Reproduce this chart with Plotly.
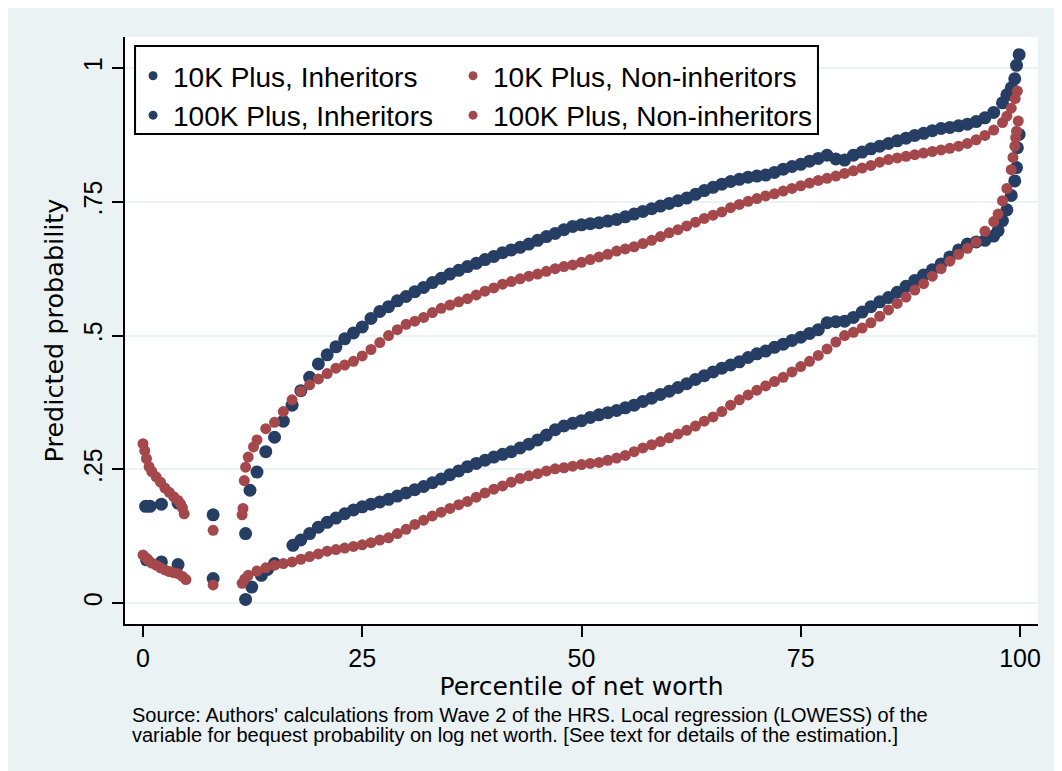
import plotly.graph_objects as go

# 10K Plus, Inheritors (upper navy band)
inh10_x = [0.3, 0.8, 2.1, 4.0, 8.0, 11.7, 12.2] + list(range(13, 99)) + [98.5, 99, 99.4, 99.6, 99.9]
inh10_y = [0.181, 0.181, 0.185, 0.187, 0.165, 0.130, 0.211,
           0.245, 0.283, 0.310, 0.340, 0.370, 0.397, 0.422, 0.447, 0.464, 0.479,
           0.494, 0.505, 0.516, 0.532, 0.545, 0.554, 0.565, 0.573, 0.582, 0.590,
           0.599, 0.607, 0.615, 0.622, 0.629, 0.635, 0.642, 0.648, 0.655, 0.660,
           0.665, 0.671, 0.678, 0.685, 0.691, 0.698, 0.704, 0.707, 0.709, 0.711,
           0.714, 0.717, 0.722, 0.727, 0.732, 0.737, 0.742, 0.747, 0.752, 0.757,
           0.764, 0.771, 0.777, 0.783, 0.788, 0.792, 0.796, 0.798, 0.800, 0.805,
           0.811, 0.816, 0.820, 0.826, 0.831, 0.837, 0.830, 0.828, 0.837, 0.843,
           0.849, 0.854, 0.859, 0.864, 0.869, 0.874, 0.878, 0.883, 0.887, 0.889,
           0.892, 0.895, 0.900, 0.907, 0.917, 0.935,
           0.950, 0.963, 0.980, 1.005, 1.025]

# 10K Plus, Non-inheritors (upper red band)
non10_x = [0, 0.2, 0.4, 0.7, 1.0, 1.5, 2.0, 2.5, 3.0, 3.5, 4.0, 4.3, 4.5, 4.7,
           8.0, 11.3, 11.4, 11.55, 11.7, 12.0, 12.6] + list(range(13, 99)) + [98.5, 99, 99.45, 99.7]
non10_y = [0.298, 0.285, 0.270, 0.255, 0.246, 0.236, 0.226, 0.215, 0.207, 0.199, 0.192, 0.185, 0.178, 0.167,
           0.136, 0.165, 0.177, 0.229, 0.254, 0.273, 0.292,
           0.305, 0.326, 0.338, 0.358, 0.380, 0.396, 0.408, 0.419, 0.429, 0.439,
           0.445, 0.452, 0.462, 0.474, 0.487, 0.500, 0.511, 0.521, 0.527, 0.534,
           0.543, 0.551, 0.557, 0.563, 0.569, 0.576, 0.583, 0.589, 0.596, 0.601,
           0.606, 0.611, 0.615, 0.620, 0.625, 0.629, 0.632, 0.637, 0.642, 0.647,
           0.652, 0.658, 0.662, 0.666, 0.672, 0.678, 0.685, 0.692, 0.698, 0.705,
           0.712, 0.719, 0.725, 0.731, 0.739, 0.745, 0.751, 0.756, 0.761, 0.765,
           0.770, 0.775, 0.780, 0.785, 0.790, 0.794, 0.798, 0.803, 0.808, 0.813,
           0.818, 0.824, 0.829, 0.832, 0.835, 0.838, 0.841, 0.844, 0.847, 0.850,
           0.854, 0.859, 0.866, 0.874, 0.884, 0.898,
           0.910, 0.925, 0.943, 0.957]

# 100K Plus, Inheritors (lower navy band)
inh100_x = [0.4, 2.1, 4.0, 8.0, 11.7, 12.4, 13.5, 14.2, 15.0, 17.1] + list(range(18, 99)) + [97.5, 98.5, 99, 99.4, 99.6, 99.7, 99.9]
inh100_y = [0.081, 0.077, 0.072, 0.046, 0.007, 0.030, 0.052, 0.063, 0.074, 0.108,
            0.118, 0.130, 0.142, 0.151, 0.159, 0.167, 0.174, 0.180, 0.185, 0.189,
            0.194, 0.200, 0.206, 0.212, 0.218, 0.225, 0.232, 0.240, 0.247, 0.255,
            0.261, 0.267, 0.273, 0.278, 0.283, 0.290, 0.297, 0.305, 0.314, 0.324,
            0.331, 0.336, 0.341, 0.347, 0.352, 0.356, 0.360, 0.365, 0.370, 0.377,
            0.383, 0.390, 0.396, 0.403, 0.410, 0.418, 0.425, 0.432, 0.439, 0.445,
            0.451, 0.459, 0.466, 0.471, 0.478, 0.484, 0.491, 0.497, 0.504, 0.511,
            0.524, 0.526, 0.527, 0.534, 0.544, 0.554, 0.563, 0.571, 0.581, 0.592,
            0.603, 0.613, 0.623, 0.634, 0.647, 0.660, 0.671, 0.675, 0.678, 0.686,
            0.715,
            0.696, 0.735, 0.762, 0.789, 0.814, 0.851, 0.876]

# 100K Plus, Non-inheritors (lower red band)
non100_x = [0, 0.3, 0.6, 1.0, 1.5, 2.0, 2.5, 3.0, 3.5, 4.0, 4.5, 4.9,
            8.0, 11.3, 11.6, 12.0] + list(range(13, 99)) + [97.5, 98.5, 99, 99.2, 99.4, 99.5, 99.6, 99.8]
non100_y = [0.090, 0.085, 0.080, 0.075, 0.071, 0.066, 0.062, 0.059, 0.057, 0.055, 0.050, 0.044,
            0.034, 0.037, 0.045, 0.052,
            0.060, 0.066, 0.071, 0.074, 0.077, 0.082, 0.087, 0.092, 0.097, 0.100,
            0.103, 0.106, 0.109, 0.113, 0.118, 0.122, 0.130, 0.138, 0.147, 0.155,
            0.163, 0.170, 0.177, 0.184, 0.190, 0.198, 0.206, 0.213, 0.219, 0.226,
            0.233, 0.238, 0.242, 0.247, 0.251, 0.253, 0.256, 0.259, 0.261, 0.263,
            0.267, 0.271, 0.276, 0.283, 0.290, 0.296, 0.302, 0.309, 0.316, 0.323,
            0.331, 0.340, 0.348, 0.358, 0.370, 0.380, 0.389, 0.398, 0.406, 0.414,
            0.422, 0.432, 0.442, 0.452, 0.463, 0.475, 0.488, 0.500, 0.506, 0.514,
            0.524, 0.536, 0.548, 0.560, 0.572, 0.585, 0.597, 0.611, 0.625, 0.639,
            0.652, 0.663, 0.675, 0.695, 0.713, 0.752,
            0.727, 0.775, 0.810, 0.833, 0.854, 0.870, 0.882, 0.901]

y_ticks = [0, 0.25, 0.5, 0.75, 1]
y_ticktext = ['0', '.25', '.5', '.75', '1']
x_ticks = [0, 25, 50, 75, 100]
note_lines = [
    "Source: Authors' calculations from Wave 2 of the HRS. Local regression (LOWESS) of the",
    "variable for bequest probability on log net worth. [See text for details of the estimation.]",
]

navy = '#263D64'
red = '#A4484C'
bg = '#EAF2F3'
sans = 'Liberation Sans'
wide = 'DejaVu Sans'

# name, x, y, colour, marker size, legend column
series = [
    ('10K Plus, Inheritors', inh10_x, inh10_y, navy, 13, 'legend'),
    ('10K Plus, Non-inheritors', non10_x, non10_y, red, 11, 'legend2'),
    ('100K Plus, Inheritors', inh100_x, inh100_y, navy, 13, 'legend'),
    ('100K Plus, Non-inheritors', non100_x, non100_y, red, 11, 'legend2'),
]

fig = go.Figure()
for name, xs, ys, col, size, leg in series:
    fig.add_trace(go.Scatter(
        x=xs, y=ys, mode='markers', name=name, showlegend=False,
        marker=dict(color=col, size=size, line=dict(width=0)),
    ))
# legend keys, two columns like the Stata key
for name, xs, ys, col, size, leg in series:
    fig.add_trace(go.Scatter(
        x=[None], y=[None], mode='markers', name=name, legend=leg,
        marker=dict(color=col, size=9, line=dict(width=0)),
    ))

leg_style = dict(orientation='v', yanchor='top', xanchor='left', y=0.976,
                 bgcolor='rgba(0,0,0,0)', borderwidth=0, font=dict(size=28),
                 itemwidth=30, traceorder='normal', tracegroupgap=0)

fig.update_layout(
    width=1062, height=771,
    margin=dict(l=117, r=32, t=29, b=155),
    paper_bgcolor=bg, plot_bgcolor='white',
    font=dict(family=sans, color='black'),
    xaxis=dict(
        range=[-2.05, 102.05], tickvals=x_ticks, ticks='outside', ticklen=11, tickwidth=2,
        tickcolor='black', showline=True, linecolor='black', linewidth=2,
        showgrid=False, zeroline=False, tickfont=dict(size=25),
        title=dict(text='Percentile of net worth', font=dict(family=wide, size=25), standoff=0),
    ),
    yaxis=dict(
        range=[-0.039, 1.058], tickvals=y_ticks, ticktext=y_ticktext, tickangle=-90,
        ticks='outside', ticklen=11, tickwidth=2, tickcolor='black',
        showline=True, linecolor='black', linewidth=2,
        showgrid=True, gridcolor=bg, gridwidth=2, zeroline=False,
        tickfont=dict(size=25),
        title=dict(text='Predicted probability', font=dict(family=wide, size=25.5), standoff=8),
    ),
    legend=dict(x=0.0088, **leg_style),
    legend2=dict(x=0.3593, **leg_style),
    shapes=[dict(
        type='rect', xref='paper', yref='paper', x0=0.011, x1=0.759, y0=0.8348, y1=0.9847,
        fillcolor='white', line=dict(color='black', width=2), layer='above',
    )],
    annotations=[
        dict(text=line, xref='paper', yref='paper', x=0.0055, y=yy, xanchor='left',
             yanchor='middle', align='left', showarrow=False, font=dict(size=20))
        for line, yy in zip(note_lines, [-0.155, -0.189])
    ],
)

fig.write_html("out.html")
